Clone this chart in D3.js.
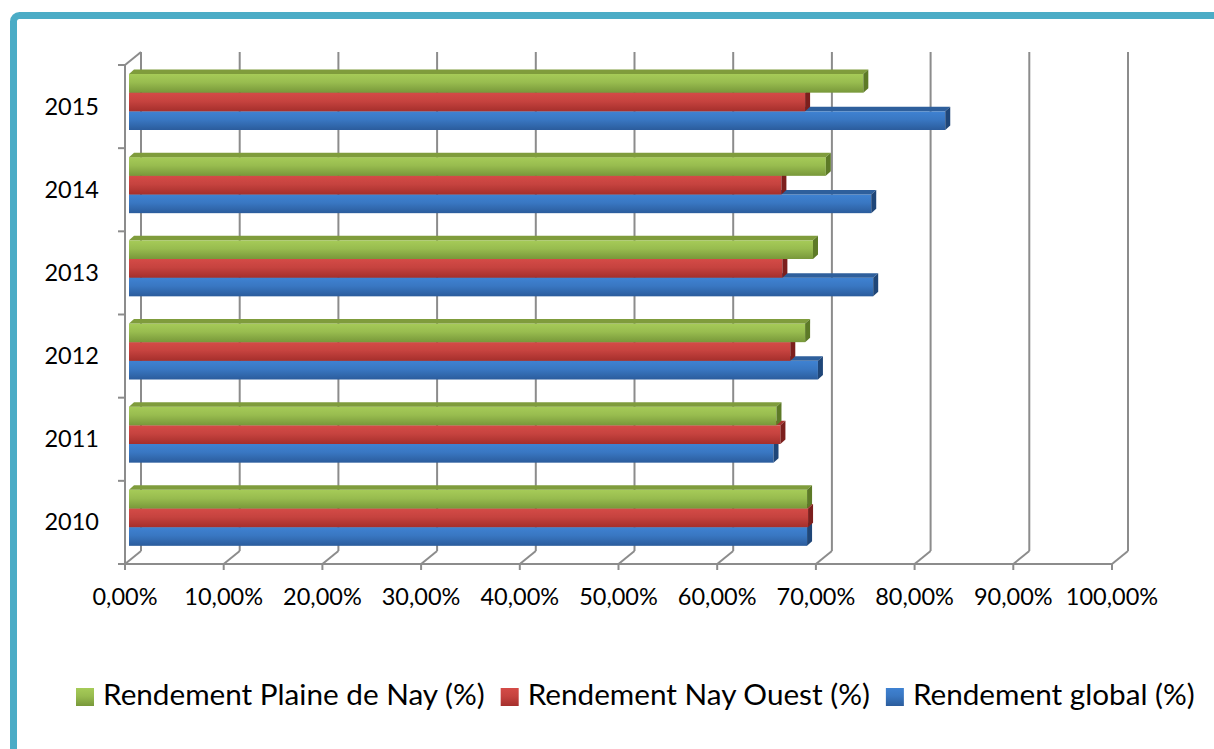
<!DOCTYPE html>
<html>
<head>
<meta charset="utf-8">
<script src="https://cdn.jsdelivr.net/npm/d3@7"></script>
<style>
  html, body { margin: 0; padding: 0; background: #fff; }
  svg { display: block; }
  text { font-family: Lato, "Open Sans", sans-serif; fill: #000; }
</style>
</head>
<body>
<svg id="chart" width="1214" height="749"></svg>
<script>
// Categories (bottom to top) and series values, in percent
const years = ["2010", "2011", "2012", "2013", "2014", "2015"];
const seriesNames = ["Rendement Plaine de Nay (%)", "Rendement Nay Ouest (%)", "Rendement global (%)"];
const plaineDeNay = [68.7, 65.6, 68.5, 69.3, 70.6, 74.4];
const nayOuest    = [68.8, 66.0, 67.0, 66.2, 66.1, 68.5];
const global      = [68.7, 65.3, 69.8, 75.4, 75.2, 82.7];
const xTicks = [0, 10, 20, 30, 40, 50, 60, 70, 80, 90, 100];

const seriesValues = [plaineDeNay, nayOuest, global];
const seriesKeys = ["green", "red", "blue"];

const svg = d3.select("#chart");
const defs = svg.append("defs");

// Office-style shaded fills: front gradient, darker top and side faces
const palette = {
  green: { top: "#a6cb58", bottom: "#78983a", lid: "#7f9c3c", side: "#5d7a27" },
  red:   { top: "#d44b47", bottom: "#a52f2c", lid: "#a8322f", side: "#7c1f1d" },
  blue:  { top: "#3f82d2", bottom: "#2b5c9c", lid: "#2e5f9c", side: "#1f4678" }
};
Object.entries(palette).forEach(([k, c]) => {
  const g = defs.append("linearGradient").attr("id", "grad-" + k)
    .attr("x1", 0).attr("y1", 0).attr("x2", 0).attr("y2", 1);
  g.append("stop").attr("offset", "0%").attr("stop-color", c.top);
  g.append("stop").attr("offset", "45%").attr("stop-color", d3.interpolateRgb(c.top, c.bottom)(0.3));
  g.append("stop").attr("offset", "100%").attr("stop-color", c.bottom);
});

// Frame
svg.append("rect")
  .attr("x", 13.5).attr("y", 15.5).attr("width", 1400).attr("height", 900)
  .attr("rx", 6)
  .attr("fill", "none").attr("stroke", "#4bacc6").attr("stroke-width", 7);

// Scales (front plane of the plot box)
const x = d3.scaleLinear().domain([0, 100]).range([125, 1112]);
const y = d3.scaleBand().domain(years.slice().reverse()).range([65, 564]);
const wall = { dx: 16, dy: -13 };          // depth of the plot box
const barOffset = { dx: 4, dy: -3.5 };     // bars sit slightly behind the front plane
const barDepth = { dx: 5, dy: -4.5 };      // thickness of each bar
const sub = d3.scaleBand().domain(seriesNames).range([9, 65]);

const floorY = y.range()[1];
const gridColor = "#8c8c8c";
const grid = svg.append("g").attr("stroke", gridColor).attr("stroke-width", 2).attr("fill", "none");

// Back wall gridlines and floor edges
xTicks.forEach(t => {
  const fx = x(t);
  grid.append("line").attr("x1", fx + wall.dx).attr("y1", floorY + wall.dy)
    .attr("x2", fx + wall.dx).attr("y2", y.range()[0] + wall.dy);
  grid.append("line").attr("x1", fx).attr("y1", floorY)
    .attr("x2", fx + wall.dx).attr("y2", floorY + wall.dy);
  grid.append("line").attr("x1", fx).attr("y1", floorY)
    .attr("x2", fx).attr("y2", floorY + 6);
});
grid.append("line").attr("x1", x(0)).attr("y1", floorY).attr("x2", x(100)).attr("y2", floorY);

// Left wall
grid.append("line").attr("x1", x(0)).attr("y1", y.range()[0]).attr("x2", x(0)).attr("y2", floorY);
grid.append("line").attr("x1", x(0)).attr("y1", y.range()[0])
  .attr("x2", x(0) + wall.dx).attr("y2", y.range()[0] + wall.dy);
const bounds = years.map(yr => y(yr)).concat([floorY]);
bounds.forEach(by => {
  grid.append("line").attr("x1", x(0) - 7).attr("y1", by).attr("x2", x(0)).attr("y2", by);
});

// Bars: draw lower series first so upper bars cover their top faces
const bars = svg.append("g");
years.slice().reverse().forEach(yr => {
  const yi = years.indexOf(yr);
  for (let s = seriesNames.length - 1; s >= 0; s--) {
    const v = seriesValues[s][yi];
    const c = palette[seriesKeys[s]];
    const x0 = x(0) + barOffset.dx;
    const x1 = x(v) + barOffset.dx;
    const top = y(yr) + sub(seriesNames[s]);
    const h = sub.bandwidth();
    const g = bars.append("g");
    g.append("rect").attr("x", x0).attr("y", top).attr("width", x1 - x0).attr("height", h)
      .attr("fill", `url(#grad-${seriesKeys[s]})`);
    g.append("polygon")
      .attr("points", [[x0, top], [x0 + barDepth.dx, top + barDepth.dy],
        [x1 + barDepth.dx, top + barDepth.dy], [x1, top]].map(p => p.join(",")).join(" "))
      .attr("fill", c.lid);
    g.append("polygon")
      .attr("points", [[x1, top], [x1 + barDepth.dx, top + barDepth.dy],
        [x1 + barDepth.dx, top + h + barDepth.dy], [x1, top + h]].map(p => p.join(",")).join(" "))
      .attr("fill", c.side);
  }
});

// Axis labels
const frFormat = d3.formatLocale({ decimal: ",", thousands: " ", grouping: [3], currency: ["", " €"] }).format(".2%");
svg.append("g").selectAll("text").data(xTicks).join("text")
  .attr("x", d => x(d)).attr("y", 605)
  .attr("text-anchor", "middle").attr("font-size", 23.5)
  .text(d => frFormat(d / 100));

svg.append("g").selectAll("text").data(years).join("text")
  .attr("x", 99).attr("y", d => y(d) + y.bandwidth() / 2 + 8)
  .attr("text-anchor", "end").attr("font-size", 23.5)
  .text(d => d);

// Legend
const legend = svg.append("g");
let lx = 76;
seriesNames.forEach((name, i) => {
  const key = seriesKeys[i];
  legend.append("rect").attr("x", lx).attr("y", 688).attr("width", 18).attr("height", 18)
    .attr("fill", `url(#grad-${key})`);
  const t = legend.append("text").attr("x", lx + 27).attr("y", 705)
    .attr("font-size", 29.7).text(name);
  lx += 27 + t.node().getComputedTextLength() + 16;
});
</script>
</body>
</html>
